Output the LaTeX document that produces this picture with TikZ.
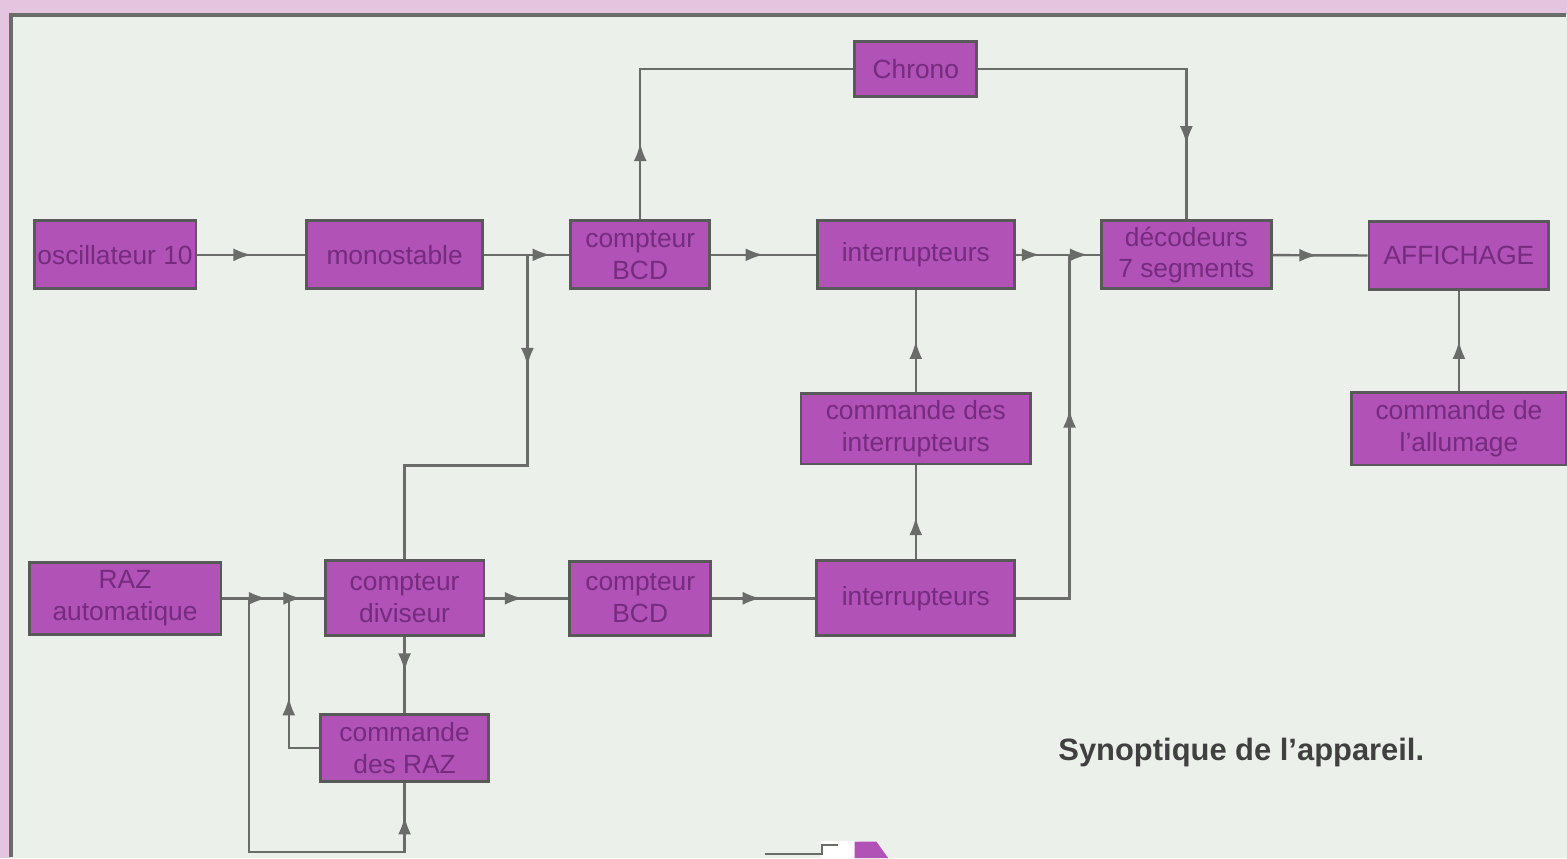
\documentclass[tikz,border=0pt]{standalone}
\usepackage{fontspec}
\setsansfont{Liberation Sans}
\usetikzlibrary{arrows.meta,positioning,decorations.markings}
\definecolor{fond}{RGB}{236,240,235}
\definecolor{rose}{RGB}{228,196,222}
\definecolor{violet}{RGB}{176,82,182}
\definecolor{texte}{RGB}{118,42,128}
\definecolor{trait}{RGB}{105,108,105}

\begin{document}
\begin{tikzpicture}[x=0.01cm,y=-0.01cm,font=\sffamily\fontsize{7.5}{9}\selectfont,
 bloc/.style={draw=black!65,line width=0.8pt,fill=violet,text=texte,align=center,inner sep=0pt},
 fl/.style={postaction={decorate},decoration={markings,mark=at position #1 with {\arrow{Latex[length=1.8mm,width=1.3mm]}}}},
 every path/.append style={draw=trait,line width=0.7pt}]
\useasboundingbox (0,0) rectangle (1567,857);
% fond et cadre
\fill[fond] (0,0) rectangle (1567,857);
\fill[rose] (0,0) rectangle (1567,12);
\fill[rose] (0,0) rectangle (8,857);
\draw[line width=1.2pt] (10,857) -- (10,14) -- (1567,14);

% ligne du haut
\node[bloc,minimum width=1.62cm,minimum height=0.68cm] (osc) at (114,254) {oscillateur 10};
\node[bloc,minimum width=1.76cm,minimum height=0.68cm] (mono) at (394,254) {monostable};
\node[bloc,minimum width=1.39cm,minimum height=0.68cm] (bcda) at (640,254) {compteur\\BCD};
\node[bloc,minimum width=1.97cm,minimum height=0.68cm] (inta) at (916,254) {interrupteurs};
\node[bloc,minimum width=1.70cm,minimum height=0.68cm] (deco) at (1187,254) {décodeurs\\7 segments};
\node[bloc,minimum width=1.80cm,minimum height=0.68cm] (aff) at (1460,255) {AFFICHAGE};
\node[bloc,minimum width=1.22cm,minimum height=0.55cm] (chrono) at (916,68) {Chrono};
% milieu
\node[bloc,minimum width=2.30cm,minimum height=0.71cm] (cmdint) at (916,428) {commande des\\interrupteurs};
\node[bloc,minimum width=2.15cm,minimum height=0.73cm] (cmdall) at (1460,428) {commande de\\l'allumage};
% ligne du bas
\node[bloc,minimum width=1.92cm,minimum height=0.72cm] (raz) at (124,598) {RAZ\\automatique};
\node[bloc,minimum width=1.59cm,minimum height=0.75cm] (div) at (404,598) {compteur\\diviseur};
\node[bloc,minimum width=1.41cm,minimum height=0.74cm] (bcdb) at (640,598) {compteur\\BCD};
\node[bloc,minimum width=1.98cm,minimum height=0.75cm] (intb) at (916,598) {interrupteurs};
\node[bloc,minimum width=1.68cm,minimum height=0.67cm] (cmdraz) at (404,748) {commande\\des RAZ};
\node[font=\sffamily\bfseries\fontsize{8.8}{10}\selectfont,text=black!75] (titre) at (1242,752) {Synoptique de l'appareil.};

\coordinate (j1) at (527,254);
\coordinate (c1) at (527,465);
\coordinate (j2) at (1070,254);
\coordinate (j3) at (248,598);
\coordinate (j4) at (288,598);
\coordinate (c2) at (248,852);

\draw[fl=0.5] (osc) -- (mono);
\draw (mono) -- (j1);
\draw[fl=0.55] (j1) -- (bcda);
\draw[fl=0.26] (j1) -- (c1) -| (div.north);
\draw[fl=0.5] (bcda) -- (inta);
\draw[fl=0.21] (bcda.north) |- (chrono.west);
\draw[fl=0.79] (chrono.east) -| (deco.north);
\draw[fl=0.45] (inta) -- (j2);
\draw[fl=0.6] (j2) -- (deco);
\draw[fl=0.47] (deco) -- (aff);
\draw[fl=0.5] (cmdall) -- (aff);
\draw[fl=0.5] (cmdint) -- (inta);
\draw[fl=0.45] (intb) -- (cmdint);
\draw[fl=0.61] (intb.east) -| (j2);

\draw (raz) -- (j3);
\draw[fl=0.45] (j3) -- (j4);
\draw[fl=0.36] (j4) -- (div);
\draw[fl=0.93] (j3) -- (c2) -| (cmdraz.south);
\draw[fl=0.45] (cmdraz.west) -| (j4);
\draw[fl=0.45] (div) -- (cmdraz);
\draw[fl=0.45] (div) -- (bcdb);
\draw[fl=0.47] (bcdb) -- (intb);

% fragment en bas
\fill[white] (822,842) rectangle (858,857);
\fill[violet] (856,843) -- (876,843) -- (886,857) -- (856,857) -- cycle;
\draw (765,854) -- (822,854) -- (822,845) -- (838,845);
\end{tikzpicture}
\end{document}
